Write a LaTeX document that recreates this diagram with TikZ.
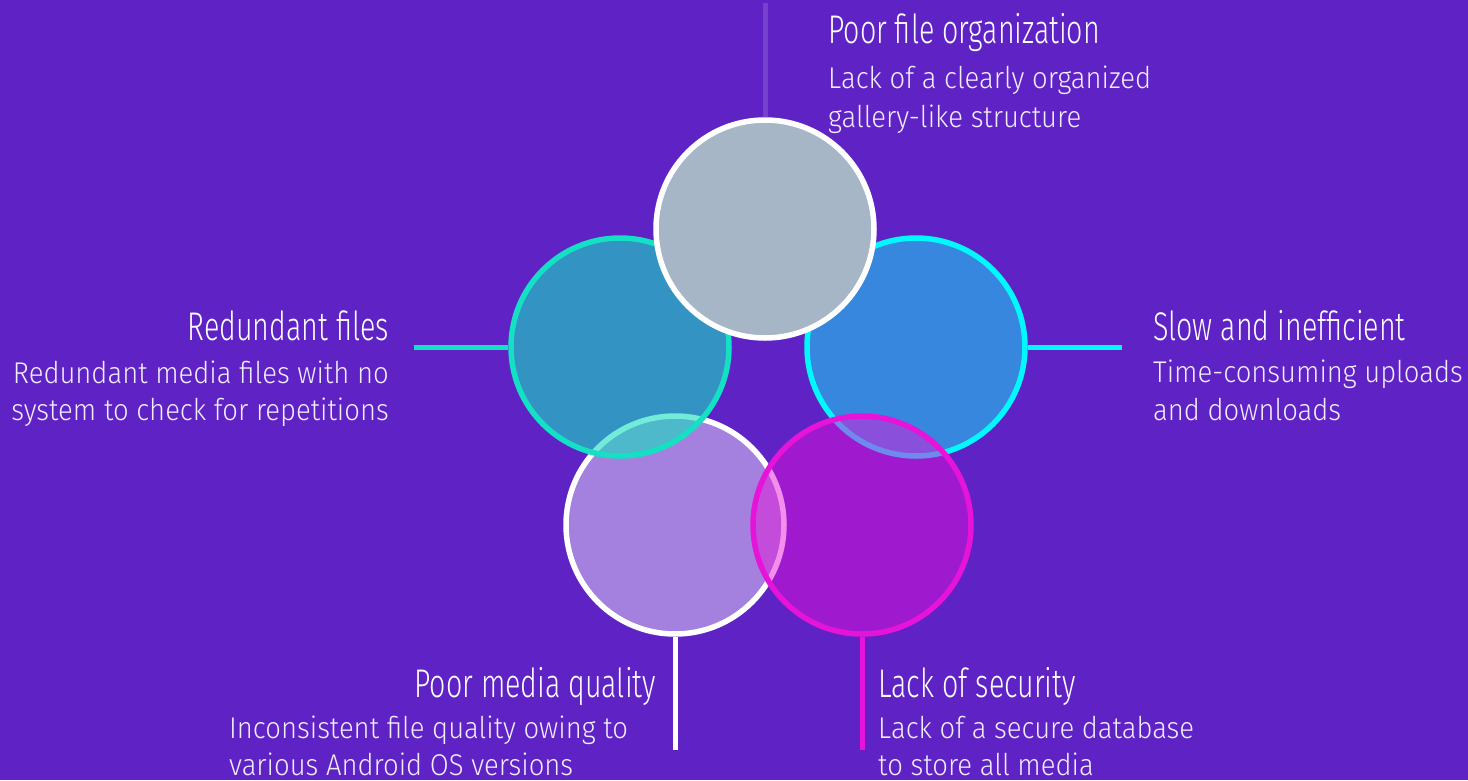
\documentclass[tikz,border=0pt]{standalone}
\usepackage{fontspec}
\newfontfamily\titlefont{Fira Sans Light}[FakeStretch=0.715]
\newfontfamily\descfont{Fira Sans Light}[FakeStretch=0.915]
\definecolor{bg}{RGB}{95,34,197}
\definecolor{greyfill}{RGB}{167,182,198}
\definecolor{tealc}{RGB}{23,223,192}
\definecolor{tealline}{RGB}{20,224,196}
\definecolor{bluefill}{RGB}{55,135,223}
\definecolor{cyanc}{RGB}{0,248,255}
\definecolor{magc}{RGB}{230,19,216}
\definecolor{descc}{RGB}{240,236,250}
\tikzset{
  bubble/.style={circle, minimum size=218pt, inner sep=0pt, line width=5.5pt},
  conn/.style={line width=5pt},
  ttl/.style={font=\titlefont\fontsize{40}{40}\selectfont, text=white, inner sep=0pt},
  dsc/.style={font=\descfont\fontsize{30}{30}\selectfont, text=descc, inner sep=0pt}
}
\begin{document}
\begin{tikzpicture}[x=1pt,y=-1pt]
\useasboundingbox (0,0) rectangle (1468,780);
\fill[bg] (0,0) rectangle (1468,780);
% circles
\node[bubble, draw=white, fill=white, fill opacity=0.43, draw opacity=1] (lav) at (675,525) {};
\node[bubble, draw=tealline, fill=tealc, fill opacity=0.6] (teal) at (620,347) {};
\node[bubble, draw=cyanc, fill=bluefill] (blue) at (916,347) {};
\node[bubble, draw=white, fill=greyfill] (grey) at (765,229) {};
\node[bubble, draw=magc, fill=magc, fill opacity=0.48] (mag) at (862,525) {};
% connectors
\coordinate (topend) at (765,3);
\coordinate (leftend) at (414,347);
\coordinate (rightend) at (1122,347);
\coordinate (blend) at (675,750);
\coordinate (brend) at (862,750);
\draw[conn, white, draw opacity=0.15] (topend) -- (grey.north);
\draw[conn, tealline] (leftend) -- (teal.west);
\draw[conn, cyanc] (blue.east) -- (rightend);
\draw[conn, white] (lav.south) -- (blend);
\draw[conn, magc] (mag.south) -- (brend);
% texts top
\node[ttl, anchor=base west] (t1) at (828,43) {Poor file organization};
\node[dsc, anchor=base west] (d1a) at (828,88) {Lack of a clearly organized};
\node[dsc, anchor=base west] (d1b) at (828,127) {gallery-like structure};
% left
\node[ttl, anchor=base east] (t2) at (389,340) {Redundant files};
\node[dsc, anchor=base east] (d2a) at (389,383) {Redundant media files with no};
\node[dsc, anchor=base east] (d2b) at (389,420) {system to check for repetitions};
% right
\node[ttl, anchor=base west] (t3) at (1153,340) {Slow and inefficient};
\node[dsc, anchor=base west] (d3a) at (1153,382) {Time-consuming uploads};
\node[dsc, anchor=base west] (d3b) at (1153,420) {and downloads};
% bottom left
\node[ttl, anchor=base east] (t4) at (656,697) {Poor media quality};
\node[dsc, anchor=base west] (d4a) at (229,738) {Inconsistent file quality owing to};
\node[dsc, anchor=base west] (d4b) at (229,775) {various Android OS versions};
% bottom right
\node[ttl, anchor=base west] (t5) at (878,697) {Lack of security};
\node[dsc, anchor=base west] (d5a) at (878,738) {Lack of a secure database};
\node[dsc, anchor=base west] (d5b) at (878,775) {to store all media};
\end{tikzpicture}
\end{document}
